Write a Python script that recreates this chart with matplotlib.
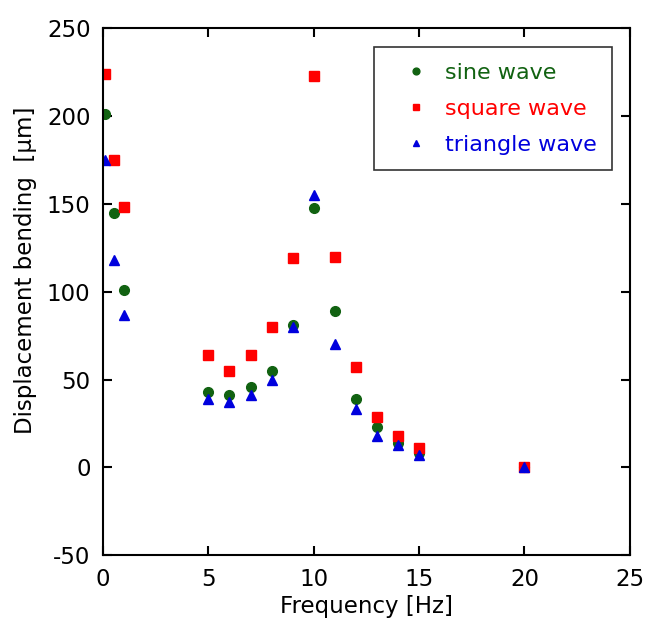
import matplotlib
matplotlib.use("Agg")
import matplotlib.pyplot as plt

# Frequencies [Hz]
freq = [0.1, 0.5, 1, 5, 6, 7, 8, 9, 10, 11, 12, 13, 14, 15, 20]

# Displacement bending [um]
sine = [201, 145, 101, 43, 41, 46, 55, 81, 147.5, 89, 39, 23, 14, 8, 0]
square = [224, 175, 148, 64, 55, 64, 80, 119, 223, 120, 57, 28.5, 18, 11, 0]
triangle = [175, 118, 87, 39, 37, 41, 50, 80, 155, 70, 33, 18, 12.5, 7, 0]

series_labels = ["sine wave", "square wave", "triangle wave"]
series_colors = ["#116211", "#ff0000", "#0000dd"]
series_markers = ["o", "s", "^"]

plt.rcParams["font.family"] = ["DejaVu Sans"]
plt.rcParams["axes.unicode_minus"] = False

fig = plt.figure(figsize=(6.48, 6.26), dpi=100)
ax = fig.add_axes([0.159, 0.113, 0.813, 0.842])

for vals, lab, col, mk in zip([sine, square, triangle], series_labels,
                              series_colors, series_markers):
    ax.plot(freq, vals, linestyle="none", marker=mk, color=col,
            markersize=7, label=lab)

ax.set_xlim(0, 25)
ax.set_ylim(-50, 250)
ax.set_xticks(range(0, 26, 5))
ax.set_yticks(range(-50, 251, 50))
ax.tick_params(direction="in", top=True, right=True, length=6.5, width=1.5,
               labelsize=16.5, pad=9)
for sp in ax.spines.values():
    sp.set_linewidth(1.5)

ax.set_xlabel("Frequency [Hz]", fontsize=16.5, labelpad=3)
ax.set_ylabel("Displacement bending  [\u03bcm]", fontsize=16.5, labelpad=7)
ax.yaxis.label.set_y(0.54)

leg = ax.legend(loc="upper right", bbox_to_anchor=(0.966, 0.964), fontsize=16,
                fancybox=False, edgecolor="black", markerscale=0.7,
                handlelength=2.4, handletextpad=0.1, borderpad=0.7,
                labelspacing=0.72, borderaxespad=0)
leg.get_frame().set_linewidth(1.2)
for txt, col in zip(leg.get_texts(), series_colors):
    txt.set_color(col)

fig.savefig("out.png", dpi=100)
